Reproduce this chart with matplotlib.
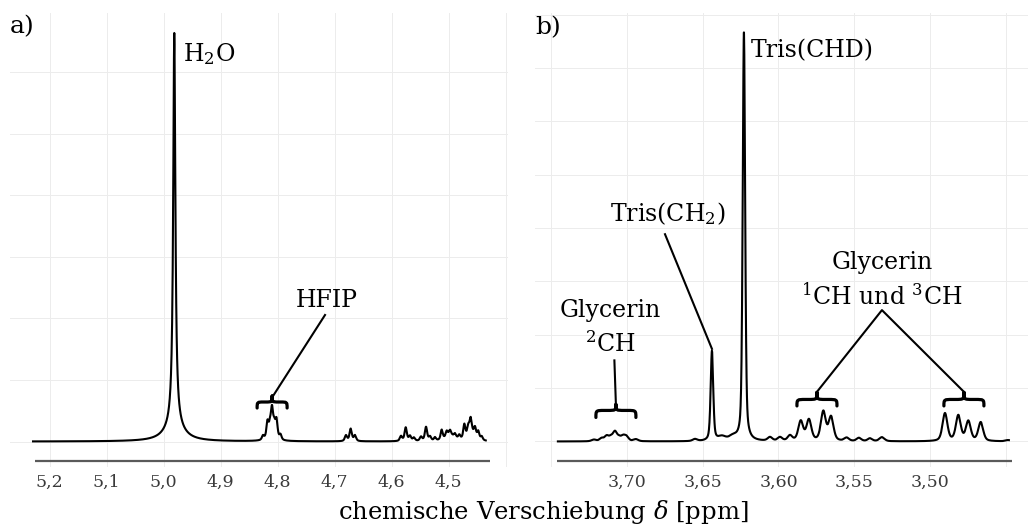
import numpy as np
import matplotlib
matplotlib.use("Agg")
import matplotlib.pyplot as plt
from matplotlib.path import Path
from matplotlib.patches import PathPatch

plt.rcParams['font.family'] = ['DejaVu Serif']
plt.rcParams['mathtext.fontset'] = 'dejavuserif'

# ---------------- peak lists (shift in ppm, height in % of tallest line, HWHM in ppm, Lorentz fraction)
# a) 5.23 – 4.43 ppm
a_start, a_stop = 5.229, 4.435
a_shift = [4.9814, 4.9814,
           4.8258, 4.8179, 4.8135, 4.8100, 4.8060, 4.8021, 4.7951, 4.8100,
           4.6802, 4.6719, 4.6644,
           4.5837, 4.5754, 4.5679, 4.5610,
           4.5486, 4.5398, 4.5328,
           4.5240, 4.5123, 4.5035, 4.4977, 4.4889, 4.4814,
           4.4726, 4.4656, 4.4614, 4.4539, 4.4481, 4.4421,
           4.4970, 4.4610]
a_height = [96.0, 4.0,
            1.0, 3.8, 2.4, 6.0, 2.6, 4.2, 1.2, 1.5,
            1.4, 3.0, 1.4,
            1.2, 3.3, 1.2, 0.8,
            1.0, 3.4, 1.0,
            0.8, 2.4, 1.4, 1.2, 0.9, 1.0,
            3.4, 2.0, 3.4, 2.2, 1.9, 0.9,
            1.4, 2.0]
a_hwhm = [0.00228, 0.0175,
          0.0022, 0.0022, 0.0022, 0.0022, 0.0022, 0.0022, 0.0022, 0.0080,
          0.0024, 0.0024, 0.0024,
          0.0024, 0.0024, 0.0024, 0.0024,
          0.0024, 0.0024, 0.0024,
          0.0022, 0.0022, 0.0022, 0.0022, 0.0022, 0.0022,
          0.0022, 0.0022, 0.0022, 0.0022, 0.0022, 0.0022,
          0.0100, 0.0080]
a_eta = [1.0, 1.0] + [0.6] * 32

# b) 3.75 – 3.45 ppm
b_start, b_stop = 3.7456, 3.4479
b_shift = [3.6228, 3.6439, 3.6373, 3.6300, 3.6551, 3.7218,
           3.7167, 3.7134, 3.7106, 3.7079, 3.7051, 3.7024, 3.7002, 3.6941,
           3.6056, 3.5990, 3.5924, 3.5550, 3.5469, 3.5396, 3.5317, 3.4485,
           3.5853, 3.5799, 3.5704, 3.5653,
           3.4901, 3.4813, 3.4747, 3.4665]
b_height = [100.0, 22.0, 1.0, 1.0, 0.5, 0.4,
            0.7, 1.2, 0.9, 2.2, 0.8, 1.1, 1.0, 0.5,
            0.9, 0.9, 1.3, 0.8, 0.8, 0.7, 1.0, 0.3,
            4.8, 5.1, 7.1, 5.8,
            6.8, 6.2, 4.8, 4.6]
b_hwhm = [0.00095, 0.0010, 0.0030, 0.0030, 0.0018, 0.0018,
          0.0016, 0.0016, 0.0016, 0.0016, 0.0016, 0.0016, 0.0016, 0.0018,
          0.0018, 0.0018, 0.0018, 0.0018, 0.0018, 0.0018, 0.0020, 0.0018,
          0.0019, 0.0019, 0.0019, 0.0019,
          0.0019, 0.0019, 0.0019, 0.0019]
b_eta = [0.45] * 30

a_ticks = [5.2, 5.1, 5.0, 4.9, 4.8, 4.7, 4.6, 4.5]
a_ticklabels = ["5,2", "5,1", "5,0", "4,9", "4,8", "4,7", "4,6", "4,5"]
b_ticks = [3.70, 3.65, 3.60, 3.55, 3.50]
b_ticklabels = ["3,70", "3,65", "3,60", "3,55", "3,50"]


def lineshape(x, x0, h, w, eta):
    u = ((x - x0) / w) ** 2
    return h * (eta / (1.0 + u) + (1.0 - eta) * np.exp(-np.log(2.0) * u))


def spectrum(start, stop, step, shifts, heights, widths, etas):
    x = np.arange(stop, start + step, step)
    y = np.zeros_like(x)
    for x0, h, w, e in zip(shifts, heights, widths, etas):
        y += lineshape(x, x0, h, w, e)
    return x, y


def brace(ax, x_left, x_right, y_end, y_flat, y_tip, lw=2.3):
    xc = 0.5 * (x_left + x_right)
    q = 0.22 * (x_right - x_left)
    verts = [(x_left, y_end),
             (x_left, y_flat), (x_left, y_flat), (x_left + q, y_flat),
             (xc - q, y_flat),
             (xc, y_flat), (xc, y_flat), (xc, y_tip),
             (xc, y_flat), (xc, y_flat), (xc + q, y_flat),
             (x_right - q, y_flat),
             (x_right, y_flat), (x_right, y_flat), (x_right, y_end)]
    codes = [Path.MOVETO,
             Path.CURVE4, Path.CURVE4, Path.CURVE4,
             Path.LINETO,
             Path.CURVE4, Path.CURVE4, Path.CURVE4,
             Path.CURVE4, Path.CURVE4, Path.CURVE4,
             Path.LINETO,
             Path.CURVE4, Path.CURVE4, Path.CURVE4]
    ax.add_patch(PathPatch(Path(verts, codes), fill=False, lw=lw,
                           edgecolor='black', capstyle='round',
                           joinstyle='round', clip_on=False))


def style_axes(ax, xlim, ylim, xgrid, ystep, ticks, labels, axis_span, axis_y):
    ax.set_xlim(*xlim)
    ax.set_ylim(*ylim)
    for s in ax.spines.values():
        s.set_visible(False)
    ax.set_yticks([])
    ax.set_xticks(ticks)
    ax.set_xticklabels(labels)
    ax.tick_params(axis='x', length=0, pad=5, labelsize=12.5,
                   labelcolor='#3a3a3a')
    for g in xgrid:
        ax.axvline(g, color='#ececec', lw=0.7, zorder=0)
    for g in np.arange(0, ylim[1], ystep):
        ax.axhline(g, color='#ececec', lw=0.7, zorder=0)
    ax.plot(axis_span, [axis_y, axis_y], color='#5a5a5a', lw=1.6,
            solid_capstyle='butt', clip_on=False, zorder=3)


W, H = 1028, 526
fig = plt.figure(figsize=(W / 100, H / 100), dpi=100)

# ---------------- panel a
ax_a = fig.add_axes([10 / W, 59 / H, 498 / W, 454 / H])
xa, ya = spectrum(a_start, a_stop, 0.0002, a_shift, a_height, a_hwhm, a_eta)
style_axes(ax_a, (5.2696, 4.3960), (-6.24, 104.9),
           [5.2, 5.1, 5.0, 4.9, 4.8, 4.7, 4.6, 4.5, 4.4], 15.08,
           a_ticks, a_ticklabels, (5.2258, 4.4275), -4.77)
ax_a.plot(xa, ya, color='black', lw=1.5, zorder=4)

ax_a.text(4.9661, 93.1, r'H$_2$O', fontsize=17, ha='left', va='baseline')
ax_a.text(4.7135, 33.0, 'HFIP', fontsize=17, ha='center', va='baseline')
ax_a.plot([4.7170, 4.8082], [30.97, 11.14], color='black', lw=1.5)
brace(ax_a, 4.8361, 4.7835, 8.2, 9.67, 11.14)

# ---------------- panel b
ax_b = fig.add_axes([535 / W, 59 / H, 493 / W, 454 / H])
xb, yb = spectrum(b_start, b_stop, 0.00005, b_shift, b_height, b_hwhm, b_eta)
style_axes(ax_b, (3.7607, 3.4353), (-6.25, 104.9),
           [3.75, 3.70, 3.65, 3.60, 3.55, 3.50, 3.45], 13.06,
           b_ticks, b_ticklabels, (3.7462, 3.4459), -4.9)
ax_b.plot(xb, yb, color='black', lw=1.5, zorder=4)

ax_b.text(3.6183, 94.07, 'Tris(CHD)', fontsize=17, ha='left', va='baseline')
ax_b.text(3.6733, 54.04, r'Tris(CH$_2$)', fontsize=17, ha='center',
          va='baseline')
ax_b.plot([3.6749, 3.6439], [50.74, 22.67], color='black', lw=1.5)

ax_b.text(3.7112, 30.5, 'Glycerin', fontsize=17, ha='center', va='baseline')
ax_b.text(3.7109, 21.84, r'$^2$CH', fontsize=17, ha='center', va='baseline')
ax_b.plot([3.7083, 3.7073], [19.85, 9.07], color='black', lw=1.5)
brace(ax_b, 3.7205, 3.6941, 5.88, 7.6, 9.07)

ax_b.text(3.5317, 42.16, 'Glycerin', fontsize=17, ha='center', va='baseline')
ax_b.text(3.5317, 33.41, r'$^1$CH und $^3$CH', fontsize=17, ha='center',
          va='baseline')
ax_b.plot([3.5749, 3.5317, 3.4772], [12.01, 32.16, 12.01], color='black',
          lw=1.5)
brace(ax_b, 3.5878, 3.5614, 8.7, 10.29, 12.01)
brace(ax_b, 3.4908, 3.4644, 8.7, 10.29, 12.01)

# ---------------- panel letters and shared axis title
fig.text(10 / W, 1 - 33 / H, 'a)', fontsize=18, ha='left', va='baseline')
fig.text(535 / W, 1 - 34 / H, 'b)', fontsize=18, ha='left', va='baseline')
fig.text(543 / W, 1 - 519 / H, r'chemische Verschiebung $\delta$ [ppm]',
         fontsize=17.5, ha='center', va='baseline')

fig.savefig('out.png', dpi=100, facecolor='white')
